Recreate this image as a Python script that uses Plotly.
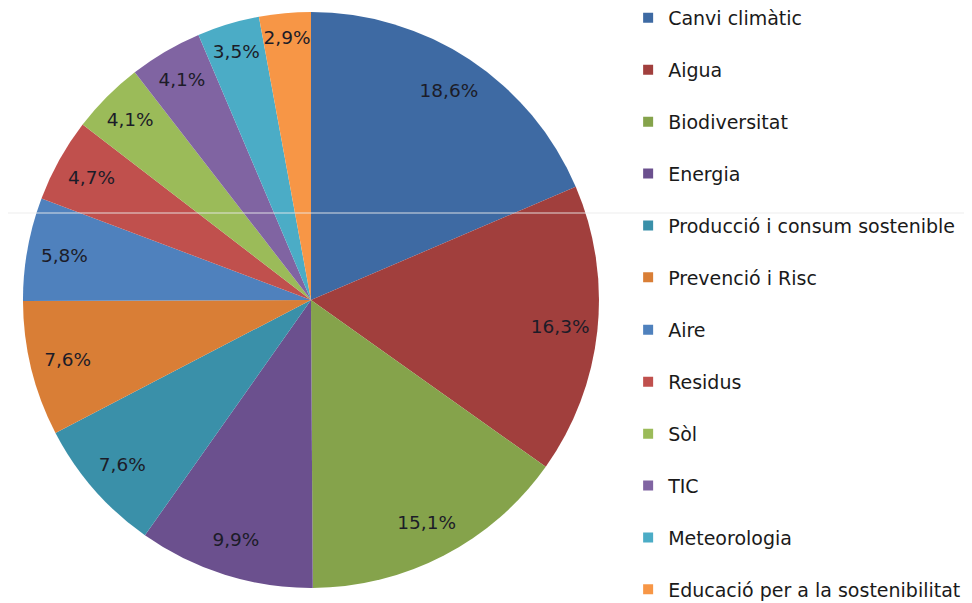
import plotly.graph_objects as go

categories = ["Canvi climàtic", "Aigua", "Biodiversitat", "Energia",
              "Producció i consum sostenible", "Prevenció i Risc", "Aire",
              "Residus", "Sòl", "TIC", "Meteorologia",
              "Educació per a la sostenibilitat"]
values = [18.6, 16.3, 15.1, 9.9, 7.6, 7.6, 5.8, 4.7, 4.1, 4.1, 3.5, 2.9]
colors = ["#3E6AA3", "#A13F3D", "#85A34B", "#6B508E", "#3A90A9", "#D97E36",
          "#4F81BD", "#C0504D", "#9BBB59", "#8064A2", "#4BACC6", "#F79646"]

labels_text = [f"{v:.1f}%".replace(".", ",") for v in values]

pie_domain = dict(x=[0.0154, 0.608], y=[0.0381, 0.9934])

fig = go.Figure()
# coloured pie
fig.add_trace(go.Pie(
    labels=categories, values=values,
    textinfo="none", sort=False, direction="clockwise", rotation=0,
    marker=dict(colors=colors, line=dict(width=0)),
    domain=pie_domain, showlegend=False, hoverinfo="label+percent",
))
# transparent donut on top carrying the labels near the rim
fig.add_trace(go.Pie(
    labels=categories, values=values, text=labels_text, hole=0.74,
    textinfo="text", textposition="inside", insidetextorientation="horizontal",
    sort=False, direction="clockwise", rotation=0,
    marker=dict(colors=["rgba(0,0,0,0)"] * len(values), line=dict(width=0)),
    textfont=dict(family="DejaVu Sans", size=18.5, color="#1c1c28"),
    domain=pie_domain, showlegend=False, hoverinfo="skip",
))

for i, (c, col) in enumerate(zip(categories, colors)):
    fig.add_trace(go.Scatter(
        x=[None], y=[None], mode="markers", name=c, legendgroup=f"g{i}",
        legend="legend" if i < 6 else "legend2",
        marker=dict(symbol="square", size=10, color=col),
        showlegend=True, hoverinfo="skip",
    ))

leg_common = dict(xanchor="left", yanchor="top", traceorder="grouped",
                  tracegroupgap=24.2,
                  font=dict(family="DejaVu Sans", size=19, color="#1a1a1a"),
                  itemwidth=30, bgcolor="rgba(0,0,0,0)")

fig.update_layout(
    width=972, height=603,
    margin=dict(l=0, r=0, t=0, b=0, autoexpand=False),
    paper_bgcolor="white", plot_bgcolor="white",
    xaxis=dict(visible=False), yaxis=dict(visible=False),
    uniformtext=dict(minsize=18.5, mode="show"),
    legend=dict(x=0.638, y=1 + 9 / 603, **leg_common),
    legend2=dict(x=0.638, y=1 - 303 / 603, **leg_common),
    shapes=[dict(type="line", xref="paper", yref="paper", x0=0, x1=1,
                 y0=1 - 205 / 603, y1=1 - 205 / 603,
                 line=dict(color="rgba(235,235,235,0.9)", width=1))],
)

fig.write_html("out.html")
